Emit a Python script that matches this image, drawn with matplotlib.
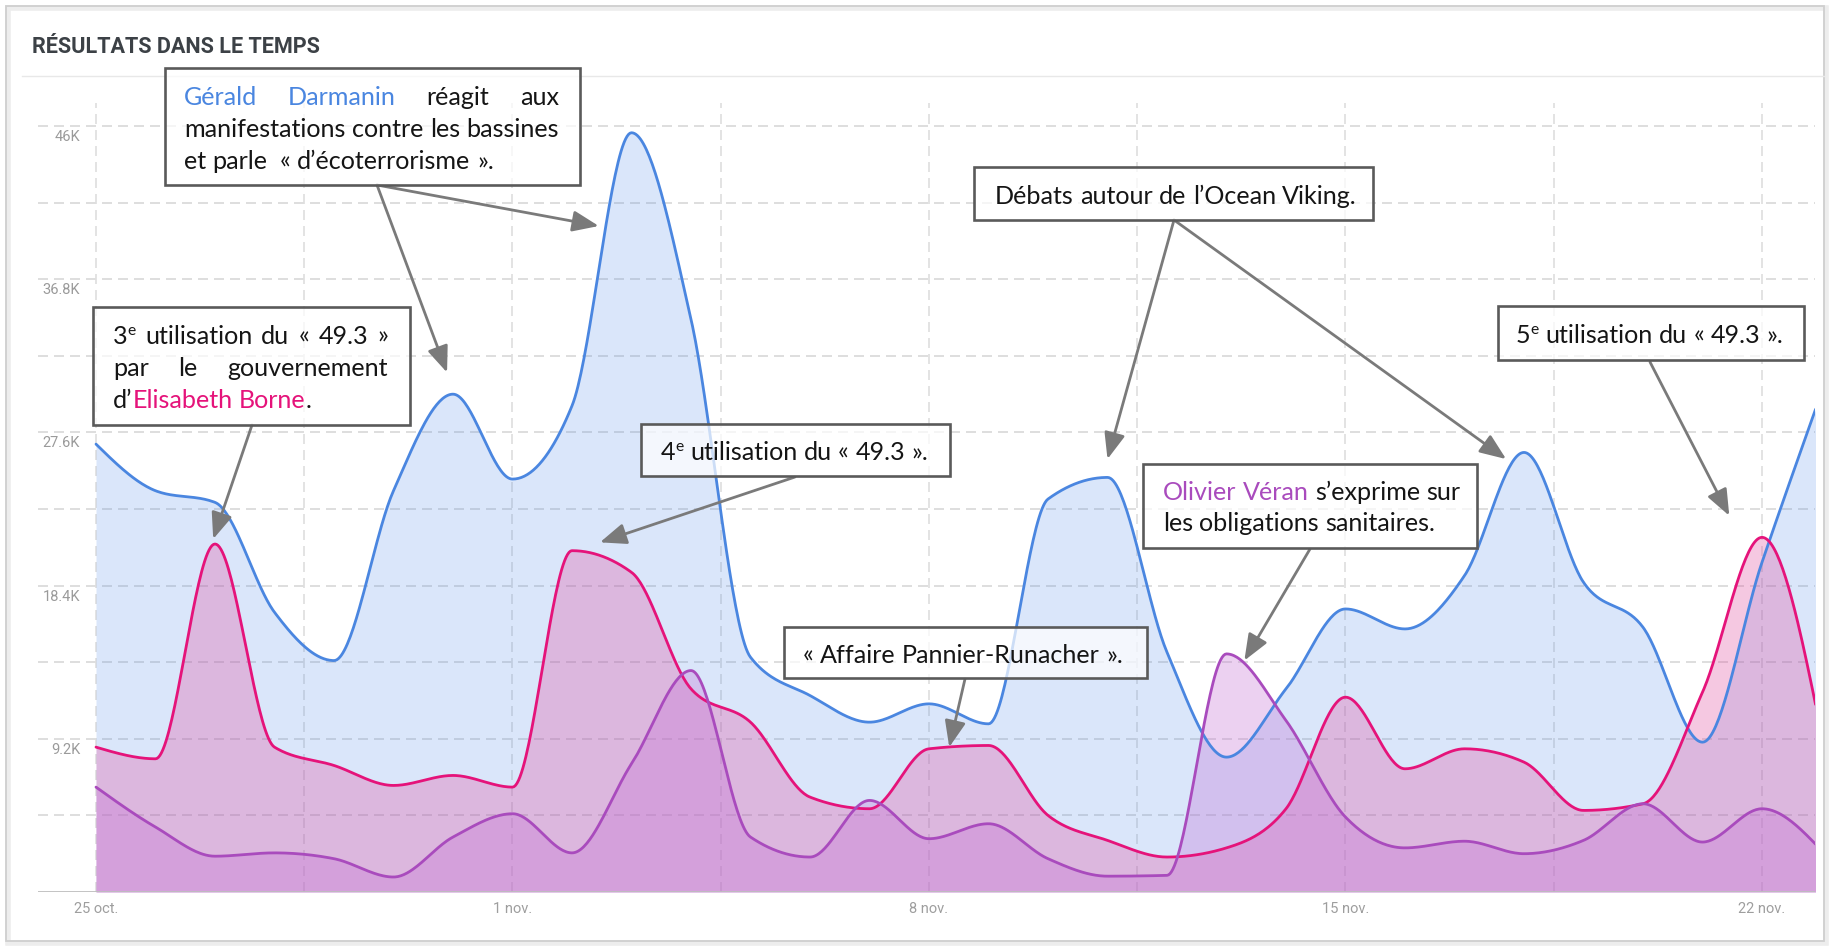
import numpy as np
import matplotlib
matplotlib.use("Agg")
import matplotlib.pyplot as plt
from matplotlib.patches import Rectangle

W, H = 1831, 947

# daily values, in thousands (25 oct. -> 23 nov.)
days = np.arange(30)
blue = [26.9, 24.1, 23.4, 16.8, 13.9, 24.1, 29.9, 24.8, 29.2, 45.6,
        34.4, 14.1, 11.8, 10.2, 11.3, 10.1, 23.6, 24.9, 14.4, 8.1,
        12.2, 17.0, 15.8, 19.0, 26.4, 18.6, 15.9, 9.0, 19.8, 30.0]
pink = [8.7, 8.0, 20.9, 8.7, 7.6, 6.4, 7.0, 6.3, 20.5, 19.2,
        12.2, 10.2, 5.7, 5.0, 8.6, 8.8, 4.6, 3.1, 2.1, 2.65,
        5.0, 11.7, 7.4, 8.6, 7.8, 4.9, 5.3, 12.0, 21.3, 9.5]
purple = [6.3, 3.9, 2.15, 2.35, 2.0, 0.9, 3.3, 4.7, 2.35, 7.7,
          13.3, 3.3, 2.1, 5.5, 3.2, 4.1, 2.0, 0.95, 1.0, 14.3,
          10.3, 4.5, 2.65, 3.05, 2.3, 3.1, 5.3, 3.0, 5.0, 2.5]

yticks = [9.2, 18.4, 27.6, 36.8, 46.0]
ylabels = ["9.2K", "18.4K", "27.6K", "36.8K", "46K"]
xticks = [0, 7, 14, 21, 28]
xlabels = ["25 oct.", "1 nov.", "8 nov.", "15 nov.", "22 nov."]

BLUE = "#4a86e0"
PINK = "#e5137a"
PURP = "#a94bbd"
K = "#151515"
FONT = "Lato"
FS = 18.1


def monotone(x, y, n=40):
    # monotone cubic (like d3 curveMonotoneX)
    x = np.asarray(x, float)
    y = np.asarray(y, float)
    h = np.diff(x)
    s = np.diff(y) / h
    t = np.zeros(len(x))
    for i in range(1, len(x) - 1):
        p = (s[i - 1] * h[i] + s[i] * h[i - 1]) / (h[i - 1] + h[i])
        t[i] = (np.sign(s[i - 1]) + np.sign(s[i])) * min(abs(s[i - 1]), abs(s[i]), 0.5 * abs(p))
    t[0] = (3 * s[0] - t[1]) / 2
    t[-1] = (3 * s[-1] - t[-2]) / 2
    xs, ys = [], []
    for i in range(len(x) - 1):
        u = np.linspace(0, 1, n, endpoint=False)
        h00 = 2 * u**3 - 3 * u**2 + 1
        h10 = u**3 - 2 * u**2 + u
        h01 = -2 * u**3 + 3 * u**2
        h11 = u**3 - u**2
        xs.append(x[i] + u * h[i])
        ys.append(h00 * y[i] + h10 * h[i] * t[i] + h01 * y[i + 1] + h11 * h[i] * t[i + 1])
    xs.append([x[-1]])
    ys.append([y[-1]])
    return np.concatenate(xs), np.concatenate(ys)


fig = plt.figure(figsize=(W / 100, H / 100), dpi=100)

# pixel layout of the plot area
x0px, dpx = 96, 59.5
y0px, vpx = 892, 16.65
left, right, top = 38, 1815, 103
ax = fig.add_axes([left / W, (H - y0px) / H, (right - left) / W, (y0px - top) / H])
ax.set_xlim((left - x0px) / dpx, (right - x0px) / dpx)
ax.set_ylim(0, (y0px - top) / vpx)
for s in ax.spines.values():
    s.set_visible(False)

for v in np.arange(1, 11) * 4.6:
    ax.axhline(v, color="#d8d8d8", lw=1.2, ls=(0, (6, 3.6)), zorder=0)
for d in np.arange(0, 28.1, 3.5):
    ax.axvline(d, color="#dedede", lw=1.2, ls=(0, (6, 3.6)), zorder=0)
ax.axhline(0, color="#bdbdbd", lw=2, zorder=5)

series = [(blue, BLUE, "#4a86e8", 0.2), (pink, PINK, "#e14b9e", 0.3), (purple, PURP, "#c472d5", 0.32)]
for vals, lc, fc, a in series:
    xs, ys = monotone(days, vals)
    ax.fill_between(xs, 0, ys, color=fc, alpha=a, lw=0, zorder=1)
    ax.plot(xs, ys, color=lc, lw=2.0, zorder=3, solid_capstyle="round")

ax.set_yticks([])
for v, lab in zip(yticks, ylabels):
    ax.annotate(lab, xy=(0, v), xycoords=("axes fraction", "data"), xytext=(42, -11),
                textcoords="offset pixels", ha="right", va="center",
                fontsize=10.5, color="#9a9a9a", family="Roboto")
ax.set_xticks(xticks)
ax.set_xticklabels(xlabels, family="Roboto", fontsize=10.5, color="#9e9e9e")
ax.tick_params(axis="x", length=0, pad=7)

# overlay in image pixels for card, title and annotations
ov = fig.add_axes([0, 0, 1, 1], zorder=10)
ov.set_xlim(0, W)
ov.set_ylim(H, 0)
ov.axis("off")
ov.patch.set_alpha(0)

ov.add_patch(Rectangle((8, 8), 1818, 935, fill=False, ec="#ededed", lw=4, zorder=0))
ov.add_patch(Rectangle((6, 6), 1818, 935, fill=False, ec="#cfcfcf", lw=1.3, zorder=1))
ov.plot([22, 1824], [76, 76], color="#e8e8e8", lw=1)
ov.text(32, 53, "RÉSULTATS DANS LE TEMPS", family="Roboto", weight="bold",
        fontsize=15.6, color="#3c4146", va="baseline")

renderer = fig.canvas.get_renderer()


def measure(s, size):
    t = ov.text(0, 0, s, fontsize=size, family=FONT)
    w = t.get_window_extent(renderer).width
    t.remove()
    return w


SP = measure("a a", FS) - measure("aa", FS)


def run_size(r):
    return FS * 0.62 if len(r) > 2 else FS


def draw_line(x, yb, words, width=None):
    widths = [sum(measure(r[0], run_size(r)) for r in wd) for wd in words]
    gap = SP
    if width and len(words) > 1:
        gap = max((width - sum(widths)) / (len(words) - 1), SP * 0.6)
    for wd, ww in zip(words, widths):
        xx = x
        for r in wd:
            rise = 0.36 * FS * 100 / 72 if len(r) > 2 else 0
            ov.text(xx, yb - rise, r[0], fontsize=run_size(r), family=FONT,
                    color=r[1], va="baseline", zorder=12)
            xx += measure(r[0], run_size(r))
        x += ww + gap


def plain(s, c=K):
    return [[(p, c)] for p in s.split(" ")]


def box(x1, y1, x2, y2):
    ov.add_patch(Rectangle((x1, y1), x2 - x1, y2 - y1, fc=(1, 1, 1, 0.72),
                           ec="#5a5a5a", lw=1.9, zorder=11))


def arrow(tip, start):
    ov.annotate("", xy=tip, xycoords=ax.transData, xytext=start, textcoords="data",
                arrowprops=dict(arrowstyle="-|>,head_length=0.8,head_width=0.32",
                                mutation_scale=20, color="#7a7a7a", lw=2.0,
                                shrinkA=0, shrinkB=0), zorder=9)


# Darmanin
box(165, 68, 580, 185)
draw_line(184, 105, plain("Gérald Darmanin", BLUE) + plain("réagit aux"), 375)
draw_line(184, 137, plain("manifestations contre les bassines"), 375)
draw_line(184, 169, plain("et parle") + [[("", K)]] + plain("« d’écoterrorisme »."))
arrow((5.9, 31.2), (377, 185))
arrow((8.45, 40.0), (377, 185))

# 3e 49.3
box(93, 307, 410, 425)
draw_line(113, 344, [[("3", K), ("e", K, "sup")]] + plain("utilisation du « 49.3 »"), 275)
draw_line(113, 376, plain("par le gouvernement"), 275)
draw_line(113, 408, [[("d’", K), ("Elisabeth", PINK)], [("Borne", PINK), (".", K)]])
arrow((1.97, 21.2), (252, 425))

# 4e 49.3
box(641, 424, 950, 476)
draw_line(661, 460, [[("4", K), ("e", K, "sup")]] + plain("utilisation du « 49.3 »."))
arrow((8.47, 21.0), (795, 477))

# Pannier-Runacher
box(784, 627, 1147, 678)
draw_line(803, 663, plain("« Affaire Pannier-Runacher »."))
arrow((14.34, 8.7), (965, 679))

# Ocean Viking
box(974, 167, 1373, 220)
draw_line(995, 204, plain("Débats autour de l’Ocean Viking."))
arrow((17.0, 26.0), (1174, 220))
arrow((23.7, 26.0), (1174, 220))

# Olivier Veran
box(1143, 464, 1477, 548)
draw_line(1163, 500, plain("Olivier Véran", PURP) + plain("s’exprime sur"))
draw_line(1163, 531, plain("les obligations sanitaires."))
arrow((19.3, 13.9), (1310, 549))

# 5e 49.3
box(1498, 306, 1804, 360)
draw_line(1516, 343, [[("5", K), ("e", K, "sup")]] + plain("utilisation du « 49.3 »."))
arrow((27.45, 22.6), (1650, 362))

fig.savefig("out.png", dpi=100)
